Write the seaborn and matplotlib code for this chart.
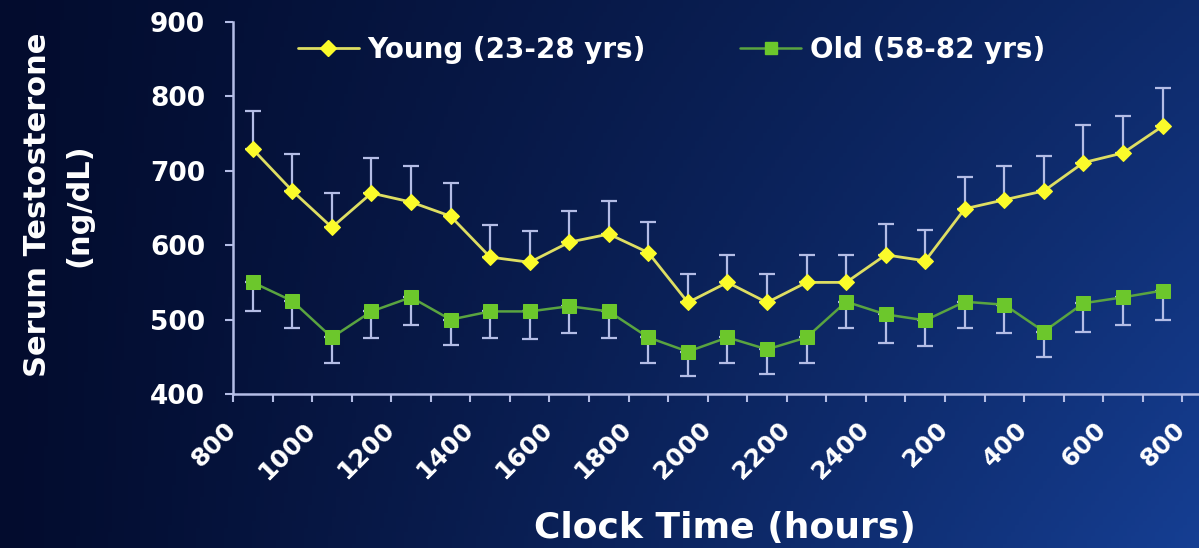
import numpy as np
import pandas as pd
import matplotlib
matplotlib.use("Agg")
import matplotlib.pyplot as plt
import matplotlib.transforms as mtransforms
from matplotlib.lines import Line2D
import seaborn as sns

# Hourly sampling over 24 h, clock-time tick labels every 2 h
tick_labels = ["800", "1000", "1200", "1400", "1600", "1800", "2000",
               "2200", "2400", "200", "400", "600", "800"]

young_mean = [729, 673, 624, 670, 658, 639, 584, 577, 604, 615, 590, 523,
              550, 523, 550, 550, 587, 579, 649, 661, 673, 711, 724, 760]
young_sem = [52, 49, 46, 47, 49, 45, 43, 42, 42, 45, 41, 38,
             37, 38, 37, 37, 41, 41, 43, 46, 47, 50, 50, 51]

old_mean = [550, 525, 476, 511, 530, 500, 511, 511, 518, 511, 476, 457,
            476, 460, 476, 524, 507, 499, 524, 520, 484, 522, 530, 539]
old_sem = [38, 36, 34, 36, 37, 34, 36, 37, 36, 36, 34, 33,
           34, 33, 34, 35, 38, 35, 35, 38, 34, 39, 37, 39]

young_label = "Young (23-28 yrs)"
old_label = "Old (58-82 yrs)"

sample_pos = np.arange(len(young_mean)) + 0.5   # samples sit midway between hour ticks

df = pd.DataFrame({
    "pos": np.concatenate([sample_pos, sample_pos]),
    "value": young_mean + old_mean,
    "group": [young_label] * len(young_mean) + [old_label] * len(old_mean),
})

sns.set_theme(style="ticks")
plt.rcParams["font.family"] = ["DejaVu Sans"]
plt.rcParams["font.weight"] = "bold"

W, H = 1199, 548
fig = plt.figure(figsize=(W / 100, H / 100), dpi=100)

# dark navy backdrop, brightening towards the lower right
bg = fig.add_axes([0, 0, 1, 1], zorder=-10)
gx, gy = np.meshgrid(np.linspace(0, 1, 300), np.linspace(0, 1, 140))
t = np.clip(0.85 * gx ** 1.2 * (0.55 + 0.45 * gy) + 0.12 * gx, 0, 1)
dark = np.array([3, 12, 46]) / 255
light = np.array([22, 64, 150]) / 255
img = dark + (light - dark) * t[..., None]
bg.imshow(img, aspect="auto", extent=[0, 1, 0, 1], origin="upper")
bg.set_axis_off()

ax = fig.add_axes([233 / W, 1 - 394 / H, 1 - 233 / W, (394 - 22) / H])
ax.set_facecolor("none")

err_color = "#b4bde6"
yellow = "#fbfb2a"
yellow_line = "#dede62"
green = "#6cc72c"
green_line = "#5aa440"

# error bars: upward for young, downward for old
ax.errorbar(sample_pos, young_mean, yerr=[np.zeros(len(young_sem)), young_sem],
            fmt="none", ecolor=err_color, elinewidth=1.6, capsize=5.5, capthick=1.6, zorder=2)
ax.errorbar(sample_pos, old_mean, yerr=[old_sem, np.zeros(len(old_sem))],
            fmt="none", ecolor=err_color, elinewidth=1.6, capsize=5.5, capthick=1.6, zorder=2)

sns.lineplot(data=df, x="pos", y="value", hue="group", style="group",
             palette={young_label: yellow_line, old_label: green_line},
             markers={young_label: "D", old_label: "s"},
             dashes=False, linewidth=2.0, markersize=10, ax=ax, zorder=3,
             legend=False)

# brighter marker faces than the connecting lines
lines = ax.get_lines()[-2:]
for ln, fc in zip(lines, [yellow, green]):
    ln.set_markerfacecolor(fc)
    ln.set_markeredgecolor(fc)
lines[0].set_markersize(8.5)
lines[1].set_markersize(10.5)
lines[1].set_linewidth(1.8)

ax.set_xlim(0, 24.42)
ax.set_ylim(400, 900)
ax.set_yticks([400, 500, 600, 700, 800, 900])
ax.set_xticks(np.arange(0, 25, 1))
ax.set_xticklabels([tick_labels[i // 2] if i % 2 == 0 else "" for i in range(25)])

for sp in ["top", "right"]:
    ax.spines[sp].set_visible(False)
for sp in ["left", "bottom"]:
    ax.spines[sp].set_color(err_color)
    ax.spines[sp].set_linewidth(1.8)

ax.tick_params(axis="y", colors=err_color, length=6, width=1.5, pad=14,
               labelsize=19, labelcolor="white")
ax.tick_params(axis="x", colors=err_color, length=6, width=1.5, pad=11,
               labelsize=18, labelcolor="white")
for lab in ax.get_yticklabels():
    lab.set_fontweight("bold")
# slanted hour labels, nudged so their ends sit just left of each tick
nudge = mtransforms.ScaledTranslation(-9 / 100, 0, fig.dpi_scale_trans)
for lab in ax.get_xticklabels():
    lab.set_fontweight("bold")
    lab.set_rotation(45)
    lab.set_ha("right")
    lab.set_va("top")
    lab.set_rotation_mode("anchor")
    lab.set_transform(lab.get_transform() + nudge)

ax.set_xlabel("Clock Time (hours)", fontsize=26, fontweight="bold", color="white", va="center")
ax.xaxis.set_label_coords((725 - 233) / (W - 233), (394 - 528) / 372)
ax.set_ylabel("Serum Testosterone\n(ng/dL)", fontsize=22, fontweight="bold", color="white",
              va="center", linespacing=1.55)
ax.yaxis.set_label_coords((58 - 233) / (W - 233), (394 - 205) / 372)

# legend with line + marker handles
handles = [
    Line2D([], [], color=yellow_line, lw=2.0, marker="D", ms=8.5,
           markerfacecolor=yellow, markeredgecolor=yellow),
    Line2D([], [], color=green_line, lw=1.8, marker="s", ms=9,
           markerfacecolor=green, markeredgecolor=green),
]
leg = ax.legend(handles, [young_label, old_label], ncol=2, frameon=False,
                loc="center left", bbox_to_anchor=((284 - 233) / (W - 233), (394 - 50) / 372),
                borderpad=0, handlelength=2.2, handletextpad=0.3, columnspacing=3.4,
                prop={"size": 20, "weight": "bold"})
for txt in leg.get_texts():
    txt.set_color("white")

fig.savefig("out.png", dpi=100)
